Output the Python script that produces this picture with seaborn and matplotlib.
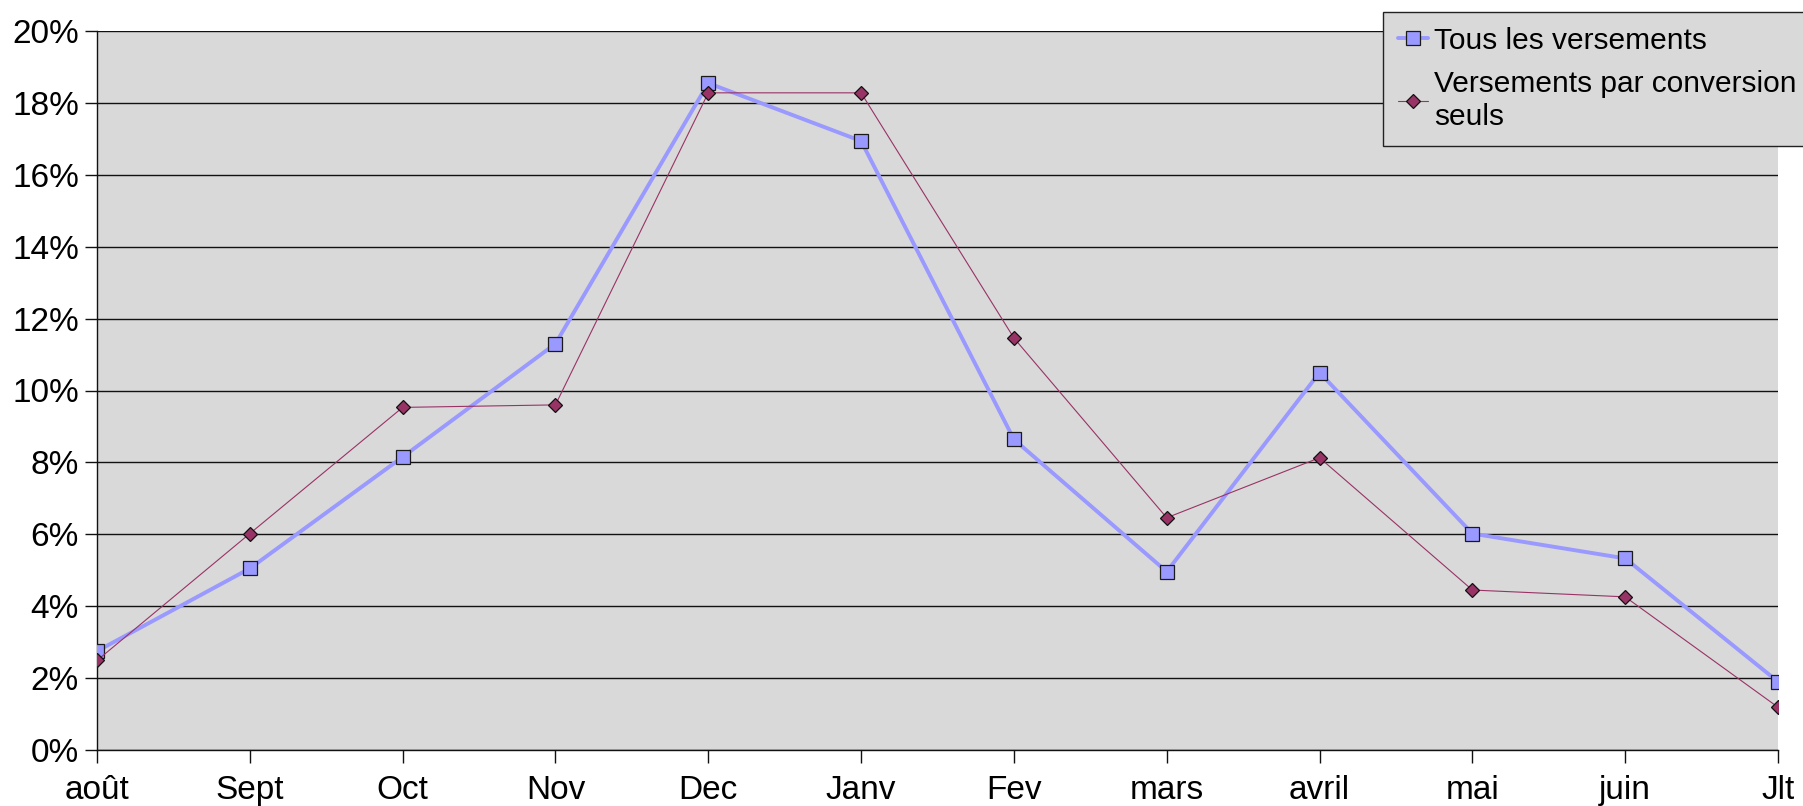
import matplotlib
matplotlib.use("Agg")
import matplotlib.pyplot as plt
import seaborn as sns
import pandas as pd
import numpy as np
from matplotlib.ticker import FuncFormatter, MultipleLocator

months = ["août", "Sept", "Oct", "Nov", "Dec", "Janv", "Fev", "mars", "avril", "mai", "juin", "Jlt"]
tous = [2.75, 5.05, 8.15, 11.3, 18.55, 16.94, 8.64, 4.96, 10.5, 6.02, 5.33, 1.9]
conversion = [2.49, 6.02, 9.53, 9.6, 18.28, 18.28, 11.46, 6.46, 8.13, 4.45, 4.26, 1.19]
series_names = ["Tous les versements", "Versements par conversion\nseuls"]

sns.set_style("white")
plt.rcParams['font.family'] = ['Liberation Sans', 'DejaVu Sans']
plt.rcParams['text.color'] = 'black'

fig = plt.figure(figsize=(18.03, 8.06), dpi=100)
ax = fig.add_axes([97/1803, 1 - 750/806, (1778 - 97)/1803, (750 - 31)/806])
ax.set_facecolor("#D9D9D9")

x = np.arange(len(months))
df = pd.DataFrame({"x": x, "tous": tous, "conv": conversion})

sns.lineplot(data=df, x="x", y="tous", ax=ax, color="#9999FF", linewidth=2.8,
             marker="s", markersize=9.8, markerfacecolor="#9999FF",
             markeredgecolor="#1a1a1a", markeredgewidth=0.9, label=series_names[0],
             zorder=3)
sns.lineplot(data=df, x="x", y="conv", ax=ax, color="#993366", linewidth=0.8,
             marker="D", markersize=6.8, markerfacecolor="#993366",
             markeredgecolor="#111111", markeredgewidth=0.9, label=series_names[1],
             zorder=4)

ax.set_xlim(0, len(months) - 1)
ax.set_ylim(0, 20)
ax.yaxis.set_major_locator(MultipleLocator(2))
ax.yaxis.set_major_formatter(FuncFormatter(lambda v, p: f"{int(round(v))}%"))
ax.set_xticks(x)
ax.set_xticklabels(months)
ax.set_xlabel("")
ax.set_ylabel("")

ax.grid(axis="y", color="#111111", linewidth=1.0)
ax.grid(axis="x", visible=False)
ax.set_axisbelow(True)

for s in ["right", "top"]:
    ax.spines[s].set_visible(False)
ax.spines["left"].set_color("#111111")
ax.spines["bottom"].set_color("#111111")
ax.spines["left"].set_linewidth(1.0)
ax.spines["bottom"].set_linewidth(1.0)

ax.tick_params(axis="both", which="major", direction="out", length=9, width=1.0,
               color="#111111", labelsize=24, labelcolor="black", pad=4, left=True, bottom=True)
ax.tick_params(axis="x", pad=9)

leg = ax.legend(loc="upper left", bbox_to_anchor=(1383/1803, 1 - 12/806),
                bbox_transform=fig.transFigure, fontsize=21.5, frameon=True,
                fancybox=False, handlelength=1.0, handletextpad=0.2,
                borderpad=0.5, labelspacing=0.5, borderaxespad=0)
for t in leg.get_texts():
    t.set_linespacing(1.25)
    t.set_color("black")
leg.get_frame().set_facecolor("#D9D9D9")
leg.get_frame().set_edgecolor("#222222")
leg.get_frame().set_linewidth(1.0)
leg.get_frame().set_alpha(1)

fig.savefig("out.png", dpi=100, facecolor="white")
